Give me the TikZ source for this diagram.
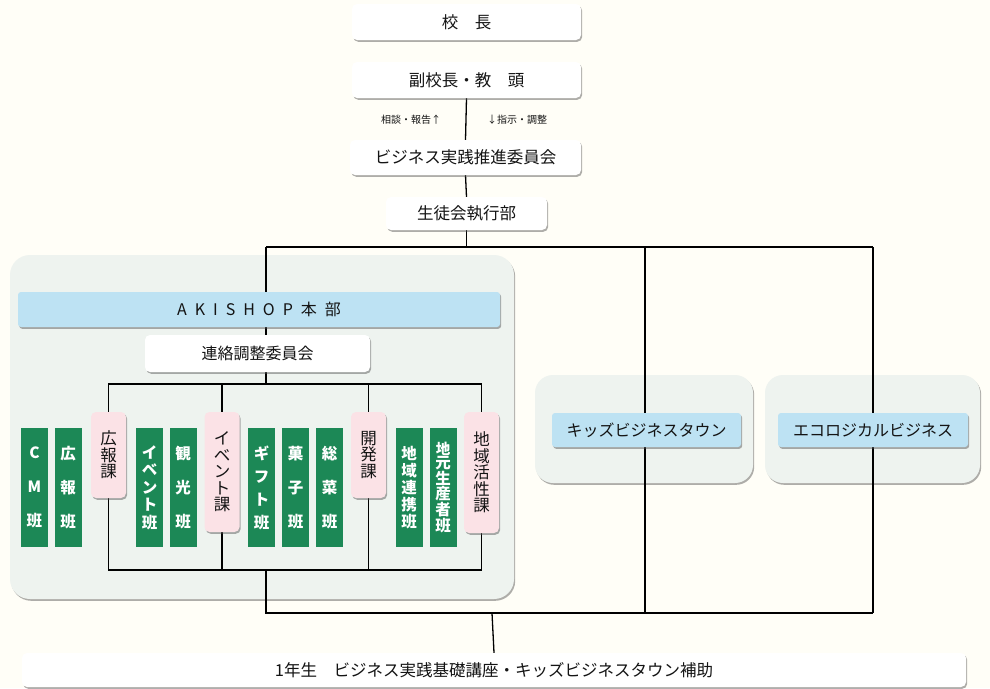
\documentclass[tikz,border=0pt]{standalone}
\usepackage{fontspec}
\setmainfont{Noto Sans CJK JP}
\newfontfamily\akifont[LetterSpace=50]{Noto Sans CJK JP}
\usetikzlibrary{shadows}
\pgfdeclarelayer{back}
\pgfdeclarelayer{lines}
\pgfsetlayers{back,lines,main}
\definecolor{hangreen}{RGB}{28,136,86}
\definecolor{kapink}{RGB}{251,226,230}
\definecolor{honblue}{RGB}{189,226,243}
\definecolor{areagray}{RGB}{238,243,239}
\definecolor{paper}{RGB}{255,254,247}
\definecolor{ink}{RGB}{20,20,20}
\tikzset{
  kage/.style={drop shadow={shadow xshift=1.2pt,shadow yshift=-1.8pt,opacity=.45,fill=black!70}},
  post/.style={kage, fill=white, rounded corners=5pt, inner sep=0pt, text=ink, font=\fontsize{16.5}{16.5}\selectfont},
  honbu/.style={kage, fill=honblue, rounded corners=3pt, inner sep=0pt, text=ink, font=\fontsize{16}{16}\selectfont},
  area/.style={kage, fill=areagray, rounded corners=20pt, inner sep=0pt},
  ka/.style={kage, fill=kapink, rounded corners=5pt, minimum width=35pt, inner sep=0pt, align=center, text=ink, font=\fontsize{16.5}{16.5}\selectfont},
  han/.style={fill=hangreen, minimum width=27pt, minimum height=119pt, inner sep=0pt, align=center, text=white, font=\bfseries\fontsize{15.5}{#1}\selectfont},
  wire/.style={line width=1.3pt, black}
}
\begin{document}
\begin{tikzpicture}[x=1pt, y=-1pt, line join=round, line cap=round]
  \useasboundingbox (0,0) rectangle (990,688);
  \begin{pgfonlayer}{back}
    \fill[paper] (0,0) rectangle (990,688);
    \node[area, minimum width=504pt, minimum height=344pt] (akiarea) at (262,427) {};
    \node[area, rounded corners=18pt, minimum width=218pt, minimum height=108pt] (kidsarea) at (644,429) {};
    \node[area, rounded corners=18pt, minimum width=215pt, minimum height=108pt] (ecoarea) at (872.5,429) {};
  \end{pgfonlayer}
  % top of the chart
  \node[post, minimum width=229pt, minimum height=36pt] (kocho) at (466.5,22) {校　長};
  \node[post, minimum width=229pt, minimum height=36pt] (fuku) at (466.5,80) {副校長・教　頭};
  \node[font=\fontsize{10}{10}\selectfont, text=ink] (sodan) at (411,120) {相談・報告↑};
  \node[font=\fontsize{10}{10}\selectfont, text=ink] (shiji) at (517,120) {↓指示・調整};
  \node[post, minimum width=231pt, minimum height=35pt] (suishin) at (465.5,157.5) {ビジネス実践推進委員会};
  \node[post, minimum width=161pt, minimum height=33pt] (seito) at (466.5,213.5) {生徒会執行部};
  % AKISHOP
  \node[honbu, minimum width=482pt, minimum height=35pt] (honbu) at (259,309.5) {\akifont AKISHOP本部};
  \node[post, font=\fontsize{16}{16}\selectfont, minimum width=225pt, minimum height=37pt] (renraku) at (257.5,353.5) {連絡調整委員会};
  \node[ka, minimum height=86pt] (kohoka) at (108.5,455) {広\\報\\課};
  \node[ka, minimum height=120pt] (eventka) at (222,472) {イ\\ベ\\ン\\ト\\課};
  \node[ka, minimum height=86pt] (kaihatsuka) at (368.5,455) {開\\発\\課};
  \node[ka, minimum height=121pt] (chiikika) at (481.5,472.5) {地\\域\\活\\性\\課};
  \foreach \x/\t/\s [count=\i] in {34.5/C\\M\\班/34, 68/広\\報\\班/34, 149.5/イ\\ベ\\ン\\ト\\班/17.5,
      183/観\\光\\班/34, 261.5/ギ\\フ\\ト\\班/23, 295.5/菓\\子\\班/34, 329.5/総\\菜\\班/34,
      409/地\\域\\連\\携\\班/17, 443/{\fontsize{14.5}{14}\selectfont 地\\元\\生\\産\\者\\班}/14}
    \node[han=\s] (han\i) at (\x,487.5) {\t};
  % right side
  \node[honbu, minimum width=189pt, minimum height=34pt] (kids) at (646.5,430) {キッズビジネスタウン};
  \node[honbu, minimum width=190pt, minimum height=34pt] (eco) at (873,430) {エコロジカルビジネス};
  \node[post, minimum width=944pt, minimum height=34pt] (nen1) at (494,670) {1年生　ビジネス実践基礎講座・キッズビジネスタウン補助};
  \coordinate (jt) at (266,247);
  \coordinate (jm) at (645,247);
  \coordinate (jr) at (873,247);
  \coordinate (up) at (266,384);
  \coordinate (dn) at (266,570);
  \coordinate (bl) at (266,613);
  \coordinate (bm) at (645,613);
  \coordinate (bc) at (492,613);
  \coordinate (br) at (873,613);
  \begin{pgfonlayer}{lines}
    \draw[wire] (fuku.south) -- (suishin.north);
    \draw[wire] (suishin.south) -- (seito.north);
    \draw[wire] (seito.south) -- (seito.south |- jt);
    \draw[wire] (jt) -- (jr);
    \draw[wire] (jt) -- (up);
    \draw[wire] (jm) -- (bm);
    \draw[wire] (jr) -- (br);
    \draw[wire] (dn) -- (bl) -- (br);
    \draw[wire] (bc) -- (nen1.north);
    \draw[wire] (kohoka.north) |- (chiikika.north |- up) -- (chiikika.north);
    \draw[wire] (eventka.north) -- (eventka.north |- up);
    \draw[wire] (kaihatsuka.north) -- (kaihatsuka.north |- up);
    \draw[wire] (kohoka.south) |- (chiikika.south |- dn) -- (chiikika.south);
    \draw[wire] (eventka.south) -- (eventka.south |- dn);
    \draw[wire] (kaihatsuka.south) -- (kaihatsuka.south |- dn);
  \end{pgfonlayer}
\end{tikzpicture}
\end{document}
